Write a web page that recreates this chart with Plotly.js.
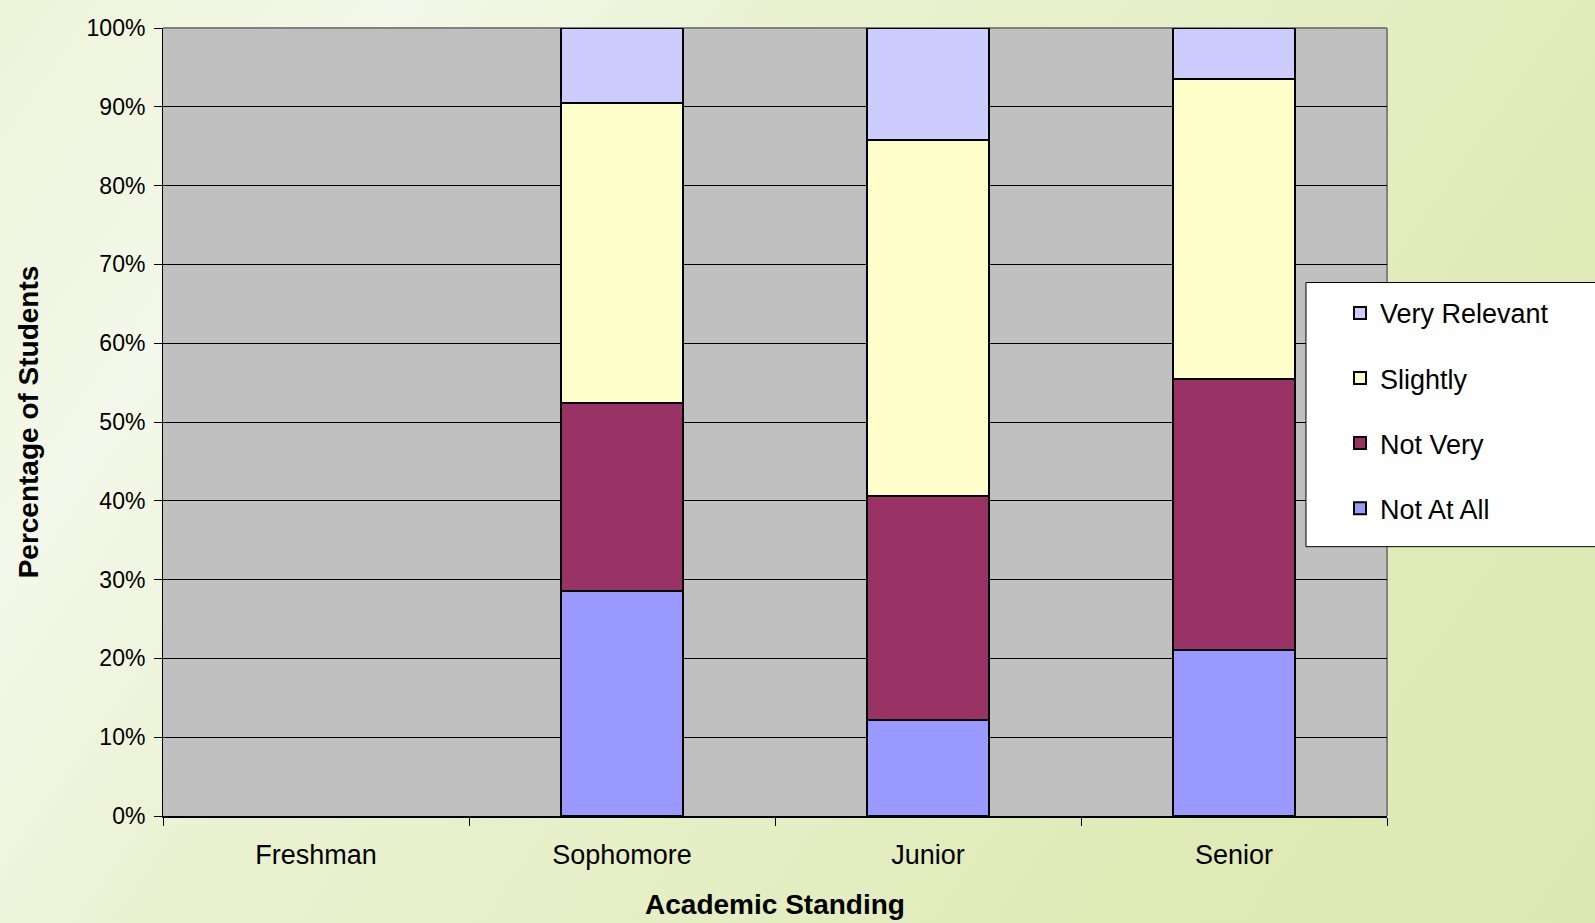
<!DOCTYPE html>
<html>
<head>
<meta charset="utf-8">
<script src="https://cdn.plot.ly/plotly-3.0.1.min.js"></script>
<style>
  html, body { margin: 0; padding: 0; }
  body {
    width: 1595px; height: 923px; overflow: hidden;
    background: linear-gradient(125deg, #edf4d9 0%, #f4f8ea 18%, #eaf2d2 35%, #e6efc6 55%, #dfeab6 80%, #dde9b2 100%);
  }
  #chart { width: 1595px; height: 923px; }
</style>
</head>
<body>
<div id="chart"></div>
<script>
const categories = ["Freshman", "Sophomore", "Junior", "Senior"];
const notAtAll     = [null, 28.6, 12.2, 21.1];
const notVery      = [null, 23.8, 28.4, 34.3];
const slightly     = [null, 38.1, 45.2, 38.1];
const veryRelevant = [null,  9.5, 14.2,  6.5];
const yTickVals = [0, 10, 20, 30, 40, 50, 60, 70, 80, 90, 100];
const yTickText = ["0%", "10%", "20%", "30%", "40%", "50%", "60%", "70%", "80%", "90%", "100%"];

const FONT = "Liberation Sans, Arial, sans-serif";

function mk(name, vals, color, rank) {
  return {
    type: "bar", name: name, x: categories, y: vals, legendgroup: name, legendrank: rank,
    marker: { color: color, line: { color: "#000000", width: 2 } },
    hoverinfo: "x+y+name"
  };
}

const data = [
  mk("Not At All", notAtAll, "#9999FF", 4),
  mk("Not Very", notVery, "#993366", 3),
  mk("Slightly", slightly, "#FFFFCC", 2),
  mk("Very Relevant", veryRelevant, "#CCCCFF", 1)
];

const layout = {
  width: 1595, height: 923,
  margin: { l: 163, r: 208, t: 28, b: 107 },
  paper_bgcolor: "rgba(0,0,0,0)",
  plot_bgcolor: "#C0C0C0",
  barmode: "stack",
  bargap: 0.6,
  font: { family: FONT, color: "#000000" },
  xaxis: {
    type: "category",
    tickson: "boundaries",
    ticks: "outside", ticklen: 8, tickcolor: "#000000", tickwidth: 1,
    showline: true, linecolor: "#000000", linewidth: 2,
    showgrid: false,
    tickfont: { size: 27, family: FONT },
    ticklabelstandoff: 14,
    title: { text: "<b>Academic Standing</b>", font: { size: 28, family: FONT }, standoff: 25 }
  },
  yaxis: {
    range: [0, 100],
    tickvals: yTickVals, ticktext: yTickText,
    ticks: "outside", ticklen: 8, tickcolor: "#000000", tickwidth: 1,
    showline: true, linecolor: "#000000", linewidth: 1,
    showgrid: true, gridcolor: "#000000", gridwidth: 1,
    zeroline: false,
    tickfont: { size: 23, family: FONT },
    ticklabelstandoff: 4,
    title: { text: "<b>Percentage of Students</b>", font: { size: 28, family: FONT }, standoff: 39 }
  },
  shapes: [
    { type: "line", xref: "paper", yref: "paper", x0: 0, x1: 1, y0: 1, y1: 1,
      line: { color: "#808080", width: 2 }, layer: "below" },
    { type: "line", xref: "paper", yref: "paper", x0: 1, x1: 1, y0: 0, y1: 1,
      line: { color: "#808080", width: 2 }, layer: "below" },
    { type: "rect", xref: "paper", yref: "paper", x0: 0.9338, x1: 1.18, y0: 0.3418, y1: 0.677,
      fillcolor: "#FFFFFF", line: { color: "#000000", width: 1 }, layer: "above" }
  ],
  showlegend: true,
  legend: {
    x: 0.9616, xanchor: "left", y: 0.669, yanchor: "top",
    bgcolor: "rgba(0,0,0,0)", borderwidth: 0,
    traceorder: "grouped",
    tracegroupgap: 27,
    font: { size: 27, family: FONT, color: "#000000" }
  }
};

Plotly.newPlot("chart", data, layout, { displayModeBar: false, staticPlot: true });
</script>
</body>
</html>
